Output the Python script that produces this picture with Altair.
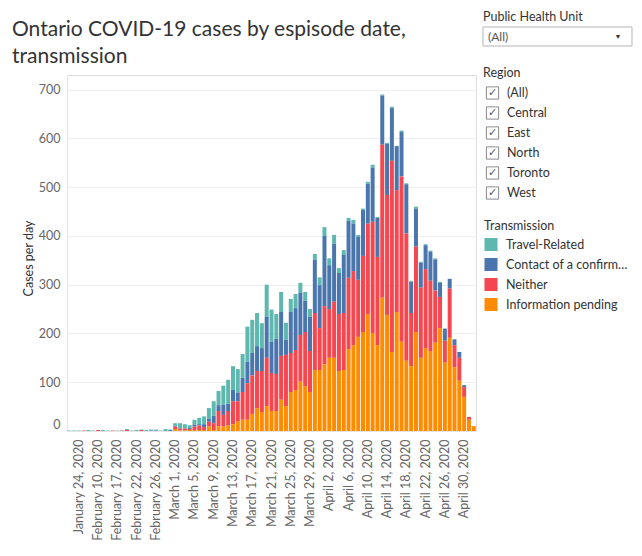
import altair as alt
import pandas as pd

# ---------------- data ----------------
early_dates = [
    "2020-01-21", "2020-01-23", "2020-01-24", "2020-01-31", "2020-02-04", "2020-02-06",
    "2020-02-10", "2020-02-12", "2020-02-14", "2020-02-16", "2020-02-17", "2020-02-18",
    "2020-02-19", "2020-02-21", "2020-02-22", "2020-02-23", "2020-02-24", "2020-02-25",
    "2020-02-26", "2020-02-27", "2020-02-28", "2020-02-29",
]
later_dates = pd.date_range("2020-03-01", "2020-05-02").strftime("%Y-%m-%d").tolist()
dates = early_dates + later_dates

travel = [1, 1, 1, 0, 2, 1, 0, 2, 1, 0, 1, 0, 2, 1, 2, 1, 2, 2, 2, 1, 4, 1,
          5, 10, 8, 6, 10, 13, 16, 22, 30, 29, 39, 49, 49, 48, 49, 72, 68, 68, 51,
          66, 66, 51, 41, 35, 27, 29, 21, 18, 16, 12, 16, 18, 14, 18, 10, 10, 6,
          8, 4, 3, 4, 6, 2, 2, 2, 3, 1, 3, 2, 2, 4, 2, 2, 2, 2, 2, 0, 0, 0, 0, 0, 0, 0]
contact = [0, 0, 0, 0, 0, 0, 0, 0, 0, 0, 0, 0, 0, 0, 0, 0, 0, 1, 1, 0, 0, 2,
           2, 1, 1, 2, 4, 3, 6, 6, 15, 12, 21, 15, 23, 18, 29, 44, 46, 51, 47,
           84, 64, 72, 90, 31, 84, 86, 86, 64, 70, 109, 88, 144, 90, 119, 84, 119, 117,
           97, 88, 94, 82, 111, 80, 101, 105, 108, 90, 91, 101, 64, 78, 51, 49, 60, 64,
           29, 25, 20, 12, 12, 4, 0, 0]
neither = [0, 0, 0, 1, 0, 0, 2, 0, 0, 1, 0, 1, 2, 0, 0, 2, 0, 0, 0, 0, 0, 0,
           5, 4, 4, 2, 7, 9, 6, 10, 14, 31, 24, 30, 47, 41, 57, 75, 79, 76, 84,
           99, 78, 76, 90, 105, 80, 82, 96, 111, 84, 117, 86, 119, 100, 115, 117, 117, 146,
           152, 117, 156, 185, 228, 181, 314, 246, 392, 250, 339, 261, 109, 175, 144, 162,
           144, 107, 64, 45, 101, 45, 47, 20, 6, 0]
pending = [0, 0, 0, 0, 0, 0, 0, 0, 0, 0, 0, 0, 0, 0, 0, 0, 0, 0, 0, 0, 0, 0,
           4, 1, 1, 2, 2, 2, 2, 9, 2, 10, 9, 11, 14, 20, 23, 23, 35, 47, 39,
           51, 41, 41, 64, 51, 80, 84, 101, 92, 80, 125, 125, 137, 150, 150, 123, 125, 168,
           176, 193, 203, 240, 201, 176, 273, 238, 162, 244, 183, 144, 133, 203, 150, 170,
           164, 181, 211, 140, 191, 131, 103, 70, 23, 10]

series_names = ["Travel-Related", "Contact of a confirmed case", "Neither", "Information pending"]
series_colors = ["#5fb8b0", "#4a76ad", "#f4474f", "#ff8b00"]
stack_rank = [3, 2, 1, 0]  # Information pending at the bottom

regions = ["(All)", "Central", "East", "North", "Toronto", "West"]
title_lines = ["Ontario COVID-19 cases by espisode date,", "transmission"]


def fmt(d):
    t = pd.Timestamp(d)
    return f"{t:%B} {t.day}, {t.year}"


labels = [fmt(d) for d in dates]
rows = []
for i, lab in enumerate(labels):
    for name, vals, rk in zip(series_names, [travel, contact, neither, pending], stack_rank):
        rows.append({"date": lab, "transmission": name, "cases": vals[i], "rank": rk})
df = pd.DataFrame(rows)
tick_labels = labels[2::4]

FONT = "Lato"
W, H = 409, 356
TXT = "#333333"
AX = "#666666"

bars = alt.Chart(df).mark_bar().encode(
    x=alt.X("date:O", sort=labels,
            scale=alt.Scale(paddingInner=0.17, paddingOuter=0.05),
            axis=alt.Axis(values=tick_labels, labelAngle=-90, title=None, labelOverlap=False,
                          ticks=False, labelPadding=8, labelFontSize=12.5, labelColor=AX,
                          labelFont=FONT, domainColor="#e4e4e4")),
    y=alt.Y("cases:Q", stack="zero",
            scale=alt.Scale(domain=[0, 730], nice=False),
            axis=alt.Axis(values=[0, 100, 200, 300, 400, 500, 600, 700], title="Cases per day",
                          ticks=False, tickSize=0, labelPadding=7, labelFontSize=12.5,
                          labelColor=AX, labelFont=FONT, labelFlush=True,
                          gridColor="#efefef", domainColor="#e4e4e4",
                          titleFont=FONT, titleFontSize=12.5, titleFontWeight="normal",
                          titleColor=TXT, titleX=-39, titleY=183, titleBaseline="middle",
                          titleAlign="center", titleAngle=-90)),
    color=alt.Color("transmission:N",
                    scale=alt.Scale(domain=series_names, range=series_colors),
                    legend=alt.Legend(title="Transmission", orient="none", legendX=417, legendY=145,
                                      symbolType="square", symbolSize=170, symbolStrokeWidth=0,
                                      titleFont=FONT, titleFontSize=12.5, titleFontWeight="normal",
                                      titleColor=TXT, titlePadding=5, labelFont=FONT,
                                      labelFontSize=12.5, labelColor=TXT, labelLimit=126,
                                      rowPadding=6, labelOffset=8, padding=0)),
    order=alt.Order("rank:Q", sort="ascending"),
)

# ---------------- chart title (two lines) ----------------
title_df = pd.DataFrame({"line": title_lines})
title = alt.Chart(title_df).transform_window(i="row_number()").transform_calculate(
    py="-39.5 + 27.6 * (datum.i - 1)").mark_text(
    font=FONT, fontSize=21, color=TXT, align="left", baseline="alphabetic").encode(
    x=alt.value(-55), y=alt.Y("py:Q", scale=None), text="line:N")

# ---------------- filter widgets on the right ----------------
widget_font = dict(font=FONT, fontSize=12.5, color=TXT, align="left", baseline="middle")
phu_title = alt.Chart(alt.Data(values=[{"t": "Public Health Unit"}])).mark_text(**widget_font).encode(
    x=alt.value(416), y=alt.value(-58), text="t:N")
dropdown = alt.Chart(alt.Data(values=[{"t": "(All)"}])).mark_rect(
    fill="white", stroke="#b5b5b5", strokeWidth=1).encode(
    x=alt.value(416), x2=alt.value(565), y=alt.value(-48), y2=alt.value(-29))
dropdown_text = alt.Chart(alt.Data(values=[{"t": "(All)"}])).mark_text(
    font=FONT, fontSize=12, color="#555555", align="left", baseline="middle").encode(
    x=alt.value(421), y=alt.value(-38.5), text="t:N")
dropdown_arrow = alt.Chart(alt.Data(values=[{"t": "▼"}])).mark_text(
    fontSize=7, color="#333333", align="center", baseline="middle").encode(
    x=alt.value(551), y=alt.value(-38.5), text="t:N")
region_title = alt.Chart(alt.Data(values=[{"t": "Region"}])).mark_text(**widget_font).encode(
    x=alt.value(416), y=alt.value(-2), text="t:N")

reg = alt.Chart(pd.DataFrame({"region": regions})).transform_window(
    i="row_number()").transform_calculate(py="18 + 20 * (datum.i - 1)")
boxes = reg.mark_point(shape="square", filled=False, size=150, stroke="#8a8a8a",
                       strokeWidth=1, opacity=1).encode(
    x=alt.value(425.5), y=alt.Y("py:Q", scale=None))
checks = reg.mark_text(fontSize=11, color="#555555", align="center", baseline="middle",
                       text="✓").encode(x=alt.value(425.5), y=alt.Y("py:Q", scale=None))
region_labels = reg.mark_text(**widget_font).encode(
    x=alt.value(440), y=alt.Y("py:Q", scale=None), text="region:N")

chart = alt.layer(
    bars, title, phu_title, dropdown, dropdown_text, dropdown_arrow, region_title,
    boxes, checks, region_labels,
).properties(
    width=W, height=H,
    autosize=alt.AutoSizeParams(type="none"),
    padding={"left": 67, "top": 75, "right": 166, "bottom": 125},
).configure_view(stroke=None).configure(background="white")

chart.save("out.html", embed_options={"renderer": "svg", "actions": False})
